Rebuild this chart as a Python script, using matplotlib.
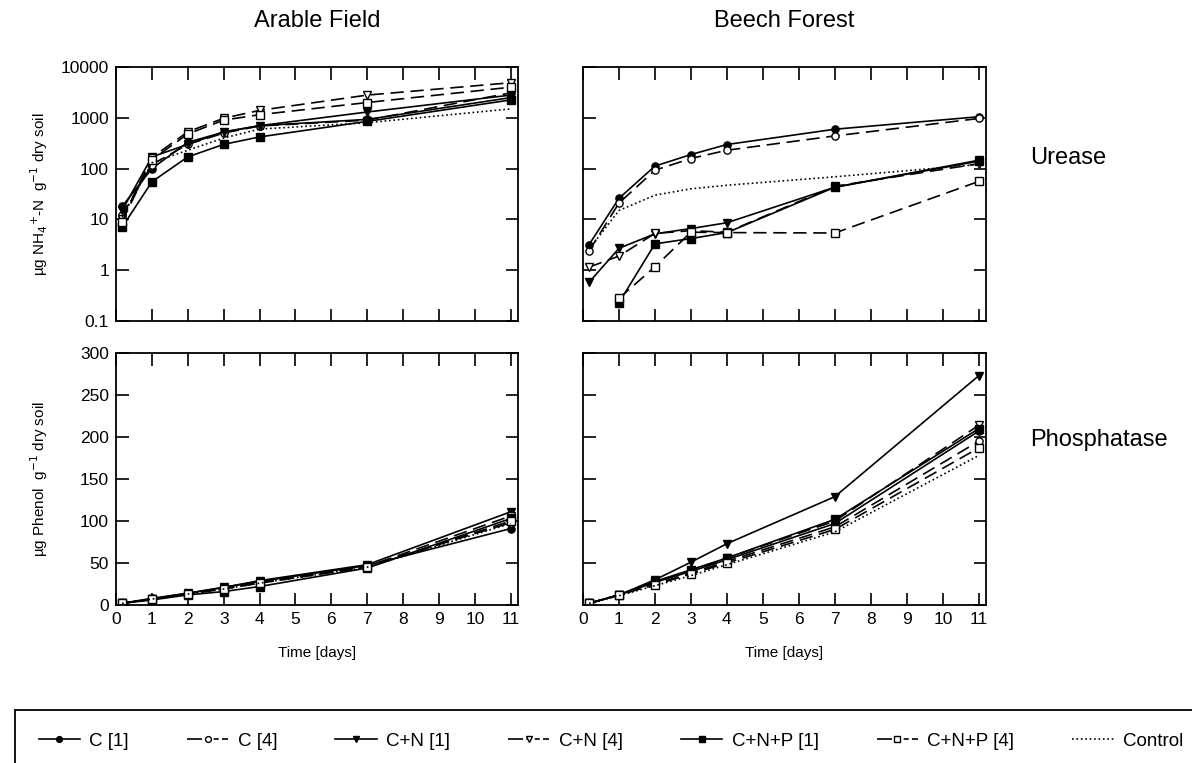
import numpy as np
import matplotlib
matplotlib.use("Agg")
import matplotlib.pyplot as plt
from matplotlib.lines import Line2D
from matplotlib.patches import Rectangle

plt.rcParams['font.family'] = ['Liberation Sans', 'DejaVu Sans']

# sampling days
days = [0.17, 1, 2, 3, 4, 7, 11]
days_p = [1, 2, 3, 4, 7, 11]   # P-amended beech urease starts at day 1

# Urease, arable field (ug NH4-N / g)
ure_ar_c1 = [18, 100, 330, 520, 700, 930, 2500]
ure_ar_c4 = [12, 120, 300, 500, 690, 900, 3100]
ure_ar_cn1 = [15, 170, 300, 530, 700, 1300, 2800]
ure_ar_cn4 = [10, 165, 530, 980, 1400, 2800, 4900]
ure_ar_cnp1 = [7, 55, 170, 300, 420, 850, 2250]
ure_ar_cnp4 = [9, 150, 480, 900, 1150, 2000, 4000]
ure_ar_ctrl = [11, 130, 230, 400, 600, 800, 1500]

# Urease, beech forest
ure_be_c1 = [3.2, 26, 112, 189, 298, 596, 1050]
ure_be_c4 = [2.4, 21, 93, 158, 230, 440, 970]
ure_be_cn1 = [0.58, 2.7, 5.2, 6.6, 8.6, 43, 146]
ure_be_cn4 = [1.15, 1.9, 5.3, 6.0, 5.6, 45, 125]
ure_be_cnp1 = [0.23, 3.3, 4.2, 5.5, 43, 140]
ure_be_cnp4 = [0.28, 1.17, 5.6, 5.5, 5.4, 56]
ure_be_ctrl = [2.6, 15, 30, 40, 47, 69, 120]

# Phosphatase, arable field (ug phenol / g)
pho_ar_c1 = [2, 8, 14, 21, 28, 47, 91]
pho_ar_c4 = [2, 7, 14, 20, 27, 46, 98]
pho_ar_cn1 = [2, 7, 14, 21, 29, 48, 111]
pho_ar_cn4 = [2, 7, 13, 20, 27, 46, 106]
pho_ar_cnp1 = [2, 6, 12, 16, 22, 44, 103]
pho_ar_cnp4 = [2, 7, 13, 19, 26, 45, 100]
pho_ar_ctrl = [2, 7, 13, 19, 26, 45, 97]

# Phosphatase, beech forest
pho_be_c1 = [2, 12, 27, 40, 54, 97, 207]
pho_be_c4 = [2, 12, 25, 38, 52, 93, 195]
pho_be_cn1 = [2, 12, 30, 51, 73, 129, 273]
pho_be_cn4 = [2, 12, 27, 41, 56, 100, 214]
pho_be_cnp1 = [2, 12, 28, 42, 56, 102, 210]
pho_be_cnp4 = [2, 12, 24, 37, 50, 90, 187]
pho_be_ctrl = [2, 11, 23, 35, 48, 87, 178]

dash = (8, 4)
styles = {
    'C [1]': dict(marker='o', mfc='k', ls='-'),
    'C [4]': dict(marker='o', mfc='white', dashes=dash),
    'C+N [1]': dict(marker='v', mfc='k', ls='-'),
    'C+N [4]': dict(marker='v', mfc='white', dashes=dash),
    'C+N+P [1]': dict(marker='s', mfc='k', ls='-'),
    'C+N+P [4]': dict(marker='s', mfc='white', dashes=dash),
    'Control': dict(marker='', ls=':'),
}

panels = {
    'ua': [(days, ure_ar_c1), (days, ure_ar_c4), (days, ure_ar_cn1), (days, ure_ar_cn4),
           (days, ure_ar_cnp1), (days, ure_ar_cnp4), (days, ure_ar_ctrl)],
    'ub': [(days, ure_be_c1), (days, ure_be_c4), (days, ure_be_cn1), (days, ure_be_cn4),
           (days_p, ure_be_cnp1), (days_p, ure_be_cnp4), (days, ure_be_ctrl)],
    'pa': [(days, pho_ar_c1), (days, pho_ar_c4), (days, pho_ar_cn1), (days, pho_ar_cn4),
           (days, pho_ar_cnp1), (days, pho_ar_cnp4), (days, pho_ar_ctrl)],
    'pb': [(days, pho_be_c1), (days, pho_be_c4), (days, pho_be_cn1), (days, pho_be_cn4),
           (days, pho_be_cnp1), (days, pho_be_cnp4), (days, pho_be_ctrl)],
}

W, H = 1192, 763
fig = plt.figure(figsize=(W / 100, H / 100), dpi=100)

def box(x0, y0, x1, y1):
    return [x0 / W, 1 - y1 / H, (x1 - x0) / W, (y1 - y0) / H]

axes = {
    'ua': fig.add_axes(box(116, 67, 518, 321)),
    'ub': fig.add_axes(box(583, 67, 986, 321)),
    'pa': fig.add_axes(box(116, 353, 518, 605)),
    'pb': fig.add_axes(box(583, 353, 986, 605)),
}

names = list(styles.keys())
for key, ax in axes.items():
    for name, (x, y) in zip(names, panels[key]):
        st = dict(styles[name])
        ax.plot(x, y, color='k', lw=1.2, ms=5.2, mec='k', mew=1.0, **st)
    ax.set_xlim(0, 11.2)
    ax.set_xticks(range(12))
    ax.tick_params(direction='in', length=9, width=1.2, top=True, right=True,
                   labelsize=12.5, pad=5)
    for s in ax.spines.values():
        s.set_linewidth(1.3)

for key in ('ua', 'ub'):
    ax = axes[key]
    ax.set_yscale('log')
    ax.set_ylim(0.1, 10000)
    ax.set_yticks([0.1, 1, 10, 100, 1000, 10000])
    ax.set_yticklabels(['0.1', '1', '10', '100', '1000', '10000'])
    ax.minorticks_off()
    ax.tick_params(labelbottom=False)

for key in ('pa', 'pb'):
    ax = axes[key]
    ax.set_ylim(0, 300)
    ax.set_yticks(range(0, 301, 50))
    ax.set_xlabel('Time [days]', fontsize=11, labelpad=14)

for key in ('ub', 'pb'):
    axes[key].tick_params(labelleft=False)

axes['ua'].set_ylabel('µg NH$_4$$^{+}$-N  g$^{-1}$ dry soil', fontsize=11)
axes['pa'].set_ylabel('µg Phenol  g$^{-1}$ dry soil', fontsize=11)
for key in ('ua', 'pa'):
    axes[key].yaxis.set_label_coords(-0.165, 0.5)

axes['ua'].set_title('Arable Field', fontsize=17, pad=29)
axes['ub'].set_title('Beech Forest', fontsize=17, pad=29)
fig.text(1030 / W, 1 - 158 / H, 'Urease', fontsize=17, va='center', ha='left')
fig.text(1030 / W, 1 - 440 / H, 'Phosphatase', fontsize=17, va='center', ha='left')

# legend
fig.patches.append(Rectangle((15 / W, -0.05), 1.0, 0.05 + (763 - 710) / H,
                             transform=fig.transFigure, fill=False, lw=1.3, ec='k'))
handles = []
for name in names:
    st = dict(styles[name])
    if 'dashes' in st:
        st['dashes'] = (9, 2, 3, 2, 3, 2)
    handles.append(Line2D([], [], color='k', lw=1.2, ms=4.2, mec='k', **st))
fig.legend(handles, names, loc='center', bbox_to_anchor=(611 / W, 1 - 741 / H),
           ncol=7, frameon=False, fontsize=13.5, handlelength=2.2, columnspacing=3.1,
           handletextpad=0.5)

fig.savefig('out.png', dpi=100)
